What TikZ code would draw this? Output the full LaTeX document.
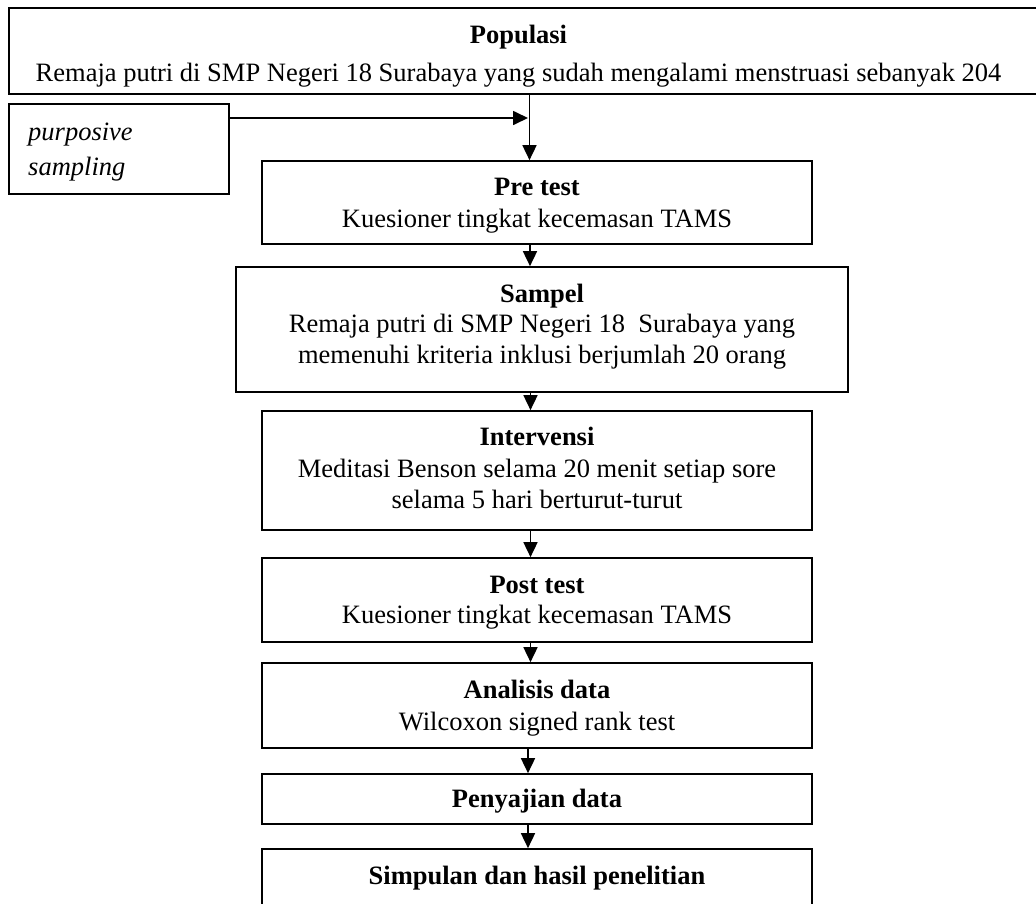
\documentclass[tikz,border=0pt]{standalone}
\usepackage{fontspec}
\setmainfont{Liberation Serif}
\usetikzlibrary{arrows.meta}
\begin{document}
\begin{tikzpicture}[x=1pt,y=-1pt,
  box/.style={draw, line width=1.7pt, inner sep=0pt},
  txt/.style={inner sep=0pt, anchor=base, font=\fontsize{26.5}{31}\selectfont},
  ttl/.style={txt, font=\fontsize{26.5}{31}\selectfont\bfseries},
  arr/.style={line width=1.7pt, -{Triangle[width=14pt,length=15pt]}}]
\useasboundingbox (0,0) rectangle (1036,903);
% boxes
\node[box, minimum width=1036pt, minimum height=86pt] (pop) at (527,51) {};
\node[box, minimum width=220pt, minimum height=90pt] (purp) at (119,149) {};
\node[box, minimum width=550pt, minimum height=83pt] (pre) at (537,202.5) {};
\node[box, minimum width=612pt, minimum height=125pt] (samp) at (542,329.5) {};
\node[box, minimum width=550pt, minimum height=119pt] (interv) at (537,470.5) {};
\node[box, minimum width=550pt, minimum height=84pt] (post) at (537,600) {};
\node[box, minimum width=550pt, minimum height=85pt] (anal) at (537,705.5) {};
\node[box, minimum width=550pt, minimum height=50pt] (peny) at (537,799) {};
\node[box, minimum width=550pt, minimum height=60pt] (simp) at (537,879) {};
% texts
\node[ttl] (popT) at (518.5,43) {Populasi};
\node[txt] (popL) at (518.5,81) {Remaja putri di SMP Negeri 18 Surabaya yang sudah mengalami menstruasi sebanyak 204};
\node[txt, anchor=base west, font=\fontsize{26.5}{31}\selectfont\itshape] (purpA) at (28,140) {purposive};
\node[txt, anchor=base west, font=\fontsize{26.5}{31}\selectfont\itshape] (purpB) at (28,175) {sampling};
\node[ttl] (preT) at (537,195) {Pre test};
\node[txt] (preL) at (537,227) {Kuesioner tingkat kecemasan TAMS};
\node[ttl] (sampT) at (542,302) {Sampel};
\node[txt] (sampA) at (542,332) {Remaja putri di SMP Negeri 18\ \ Surabaya yang};
\node[txt] (sampB) at (542,363) {memenuhi kriteria inklusi berjumlah 20 orang};
\node[ttl] (intT) at (537,445) {Intervensi};
\node[txt] (intA) at (537,477) {Meditasi Benson selama 20 menit setiap sore};
\node[txt] (intB) at (537,508) {selama 5 hari berturut-turut};
\node[ttl] (postT) at (537,593) {Post test};
\node[txt] (postL) at (537,623) {Kuesioner tingkat kecemasan TAMS};
\node[ttl] (analT) at (537,698) {Analisis data};
\node[txt] (analL) at (537,730) {Wilcoxon signed rank test};
\node[ttl] (penyT) at (537,807) {Penyajian data};
\node[ttl] (simpT) at (537,884) {Simpulan dan hasil penelitian};
% connectors
\coordinate (j) at (528,118);
\coordinate (c1) at (529.5,0);
\coordinate (c2) at (530,0);
\coordinate (c3) at (530.5,0);
\coordinate (c4) at (528,0);
\draw[arr] (purp.east |- j) -- (j);
\draw[arr] (pop.south -| c1) -- (pre.north -| c1);
\draw[arr] (pre.south -| c2) -- (samp.north -| c2);
\draw[arr] (samp.south -| c3) -- (interv.north -| c3);
\draw[arr] (interv.south -| c3) -- (post.north -| c3);
\draw[arr] (post.south -| c3) -- (anal.north -| c3);
\draw[arr] (anal.south -| c4) -- (peny.north -| c4);
\draw[arr] (peny.south -| c4) -- (simp.north -| c4);
\end{tikzpicture}
\end{document}
